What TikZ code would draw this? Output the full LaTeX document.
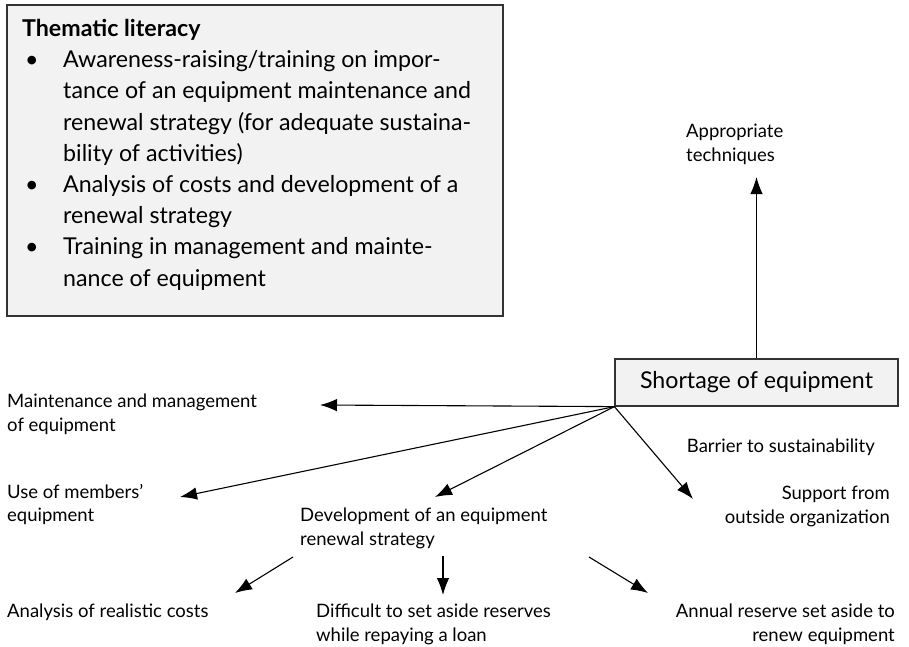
\documentclass[tikz,border=0pt]{standalone}
\usepackage{fontspec}
\setmainfont{Lato}
\usetikzlibrary{arrows.meta}
\definecolor{boxgray}{gray}{0.95}
\definecolor{edgegray}{gray}{0.2}
\tikzset{
	panel/.style   = {draw=edgegray, fill=boxgray, line width=1.2pt},
	problem/.style = {draw=edgegray, fill=boxgray, line width=1.2pt, rectangle, minimum width=283pt, minimum height=47pt, font=\fontsize{23.2}{27}\selectfont},
	label/.style   = {inner sep=0pt, align=left, font=\fontsize{18.5}{23.5}\selectfont},
	rlabel/.style  = {label, align=right},
	hidden/.style  = {coordinate},
	link/.style    = {-{Latex[length=17pt,width=12.5pt]}, line width=1.1pt},
}
\newcommand{\bul}{\hspace*{3pt}\makebox[38pt][l]{\textbullet}}
\newcommand{\ind}{\hspace*{41pt}}

\begin{document}
\begin{tikzpicture}[x=1pt, y=-1pt]
	\useasboundingbox (0,0) rectangle (909,646);

	% Thematic literacy panel
	\draw[panel] (7,5) rectangle (503,316);
	\node[inner sep=0pt, anchor=north west, align=left, font=\fontsize{23.2}{31.2}\selectfont] (literacy) at (22,19)
		{\textbf{Thematic literacy}\\
		\bul Awareness-raising/training on impor-\\
		\ind tance of an equipment maintenance and\\
		\ind renewal strategy (for adequate sustaina-\\
		\ind bility of activities)\\
		\bul Analysis of costs and development of a\\
		\ind renewal strategy\\
		\bul Training in management and mainte-\\
		\ind nance of equipment};

	% Central problem and its consequences
	\node[problem] (shortage) at (756.5,382.5) {Shortage of equipment};
	\node[label, anchor=north west] (techniques) at (686,124) {Appropriate\\techniques};
	\node[label, anchor=north west] (maintenance) at (7,394) {Maintenance and management\\of equipment};
	\node[label, anchor=north west] (members) at (7,484) {Use of members'\\equipment};
	\node[label, anchor=north west] (renewal) at (300,508) {Development of an equipment\\renewal strategy};
	\node[rlabel, anchor=north east] (barrier) at (875,439) {Barrier to sustainability};
	\node[rlabel, anchor=north east] (support) at (890,486) {Support from\\outside organization};
	\node[label, anchor=north west] (costs) at (7,604) {Analysis of realistic costs};
	\node[label, anchor=north west] (reserves) at (316,604) {Difficult to set aside reserves\\while repaying a loan};
	\node[rlabel, anchor=north east] (annual) at (895,604) {Annual reserve set aside to\\renew equipment};

	% Arrow ends
	\coordinate[hidden] (techniquestip) at (756.5,177);
	\coordinate[hidden] (maintenancetip) at (320,405);
	\coordinate[hidden] (memberstip) at (180,497);
	\coordinate[hidden] (renewaltip) at (435,497);
	\coordinate[hidden] (supporttip) at (693,499);
	\coordinate[hidden] (costsfrom) at (293,557);
	\coordinate[hidden] (coststip) at (235,593);
	\coordinate[hidden] (reservesfrom) at (443,556);
	\coordinate[hidden] (reservestip) at (443,595);
	\coordinate[hidden] (annualfrom) at (589,557);
	\coordinate[hidden] (annualtip) at (648,593);

	% Connect everything together
	\draw[link] (shortage.north) -- (techniquestip);
	\draw[link] (shortage.south west) -- (maintenancetip);
	\draw[link] (shortage.south west) -- (memberstip);
	\draw[link] (shortage.south west) -- (renewaltip);
	\draw[link] (shortage.south west) -- (supporttip);
	\draw[link] (costsfrom) -- (coststip);
	\draw[link] (reservesfrom) -- (reservestip);
	\draw[link] (annualfrom) -- (annualtip);
\end{tikzpicture}
\end{document}
